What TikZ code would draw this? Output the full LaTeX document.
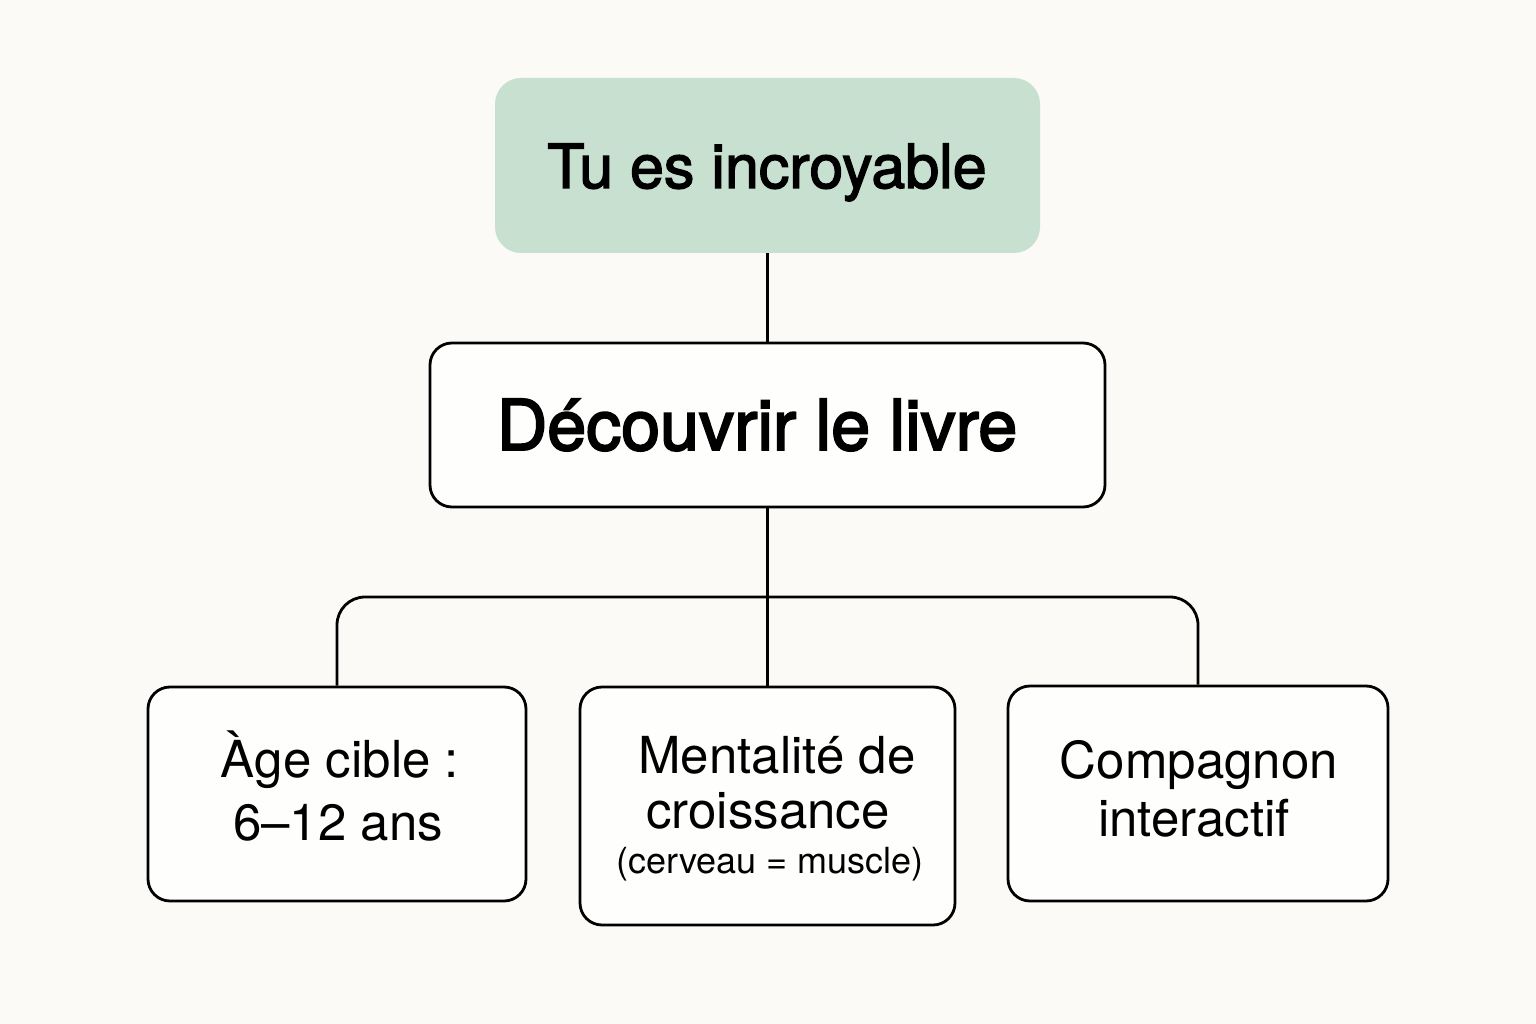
\documentclass[tikz,border=0pt]{standalone}
\usepackage{fontspec}
\setmainfont{TeX Gyre Heros}
\newfontfamily\medfont[FakeBold=2.2]{TeX Gyre Heros}
\newfontfamily\semifont[FakeBold=2.8]{TeX Gyre Heros}
\definecolor{bg}{HTML}{FBFAF7}
\definecolor{topgreen}{HTML}{C8E0D0}
\definecolor{boxfill}{HTML}{FEFEFC}
\tikzset{
  topbox/.style={fill=topgreen, rounded corners=26pt, inner sep=0pt},
  plainbox/.style={draw=black, line width=2.8pt, fill=boxfill, rounded corners=22pt, inner sep=0pt},
  conn/.style={draw=black, line width=2.8pt},
  bigtxt/.style={anchor=base, inner sep=0pt, font=\fontsize{51}{58}\selectfont},
  smalltxt/.style={anchor=base, inner sep=0pt, font=\fontsize{36}{42}\selectfont},
}
\begin{document}
\begin{tikzpicture}[x=1pt,y=-1pt]
\fill[bg] (0,0) rectangle (1536,1024);
\useasboundingbox (0,0) rectangle (1536,1024);

\node[topbox, minimum width=545pt, minimum height=175pt] (top) at (767.5,165.5) {};
\node[anchor=base, inner sep=0pt, font=\medfont\fontsize{61}{70}\selectfont] (toptxt) at (767,188) {Tu es incroyable};

\node[plainbox, minimum width=675pt, minimum height=164pt] (mid) at (767.5,425) {};
\node[anchor=base, inner sep=0pt, font=\semifont\fontsize{70}{80}\selectfont] (midtxt) at (757,450) {Découvrir le livre};

\node[plainbox, minimum width=378pt, minimum height=214pt] (b1) at (337,794) {};
\node[plainbox, minimum width=375pt, minimum height=238pt] (b2) at (767.5,806) {};
\node[plainbox, minimum width=380pt, minimum height=215pt] (b3) at (1198,793.5) {};

\node[bigtxt] (b1a) at (340,777) {Àge cible :};
\node[bigtxt] (b1b) at (338,840) {6–12 ans};

\node[bigtxt] (b2a) at (777,773) {Mentalité de};
\node[bigtxt] (b2b) at (768,828) {croissance};
\node[smalltxt] (b2c) at (770,873) {(cerveau = muscle)};

\node[bigtxt] (b3a) at (1199,778) {Compagnon};
\node[bigtxt] (b3b) at (1194,836) {interactif};

\coordinate (branch) at (767.5,597);
\draw[conn] (top.south) -- (mid.north);
\draw[conn] (mid.south) -- (b2.north);
\draw[conn, rounded corners=28pt] (b1.north) |- (branch) -| (b3.north);
\end{tikzpicture}
\end{document}
